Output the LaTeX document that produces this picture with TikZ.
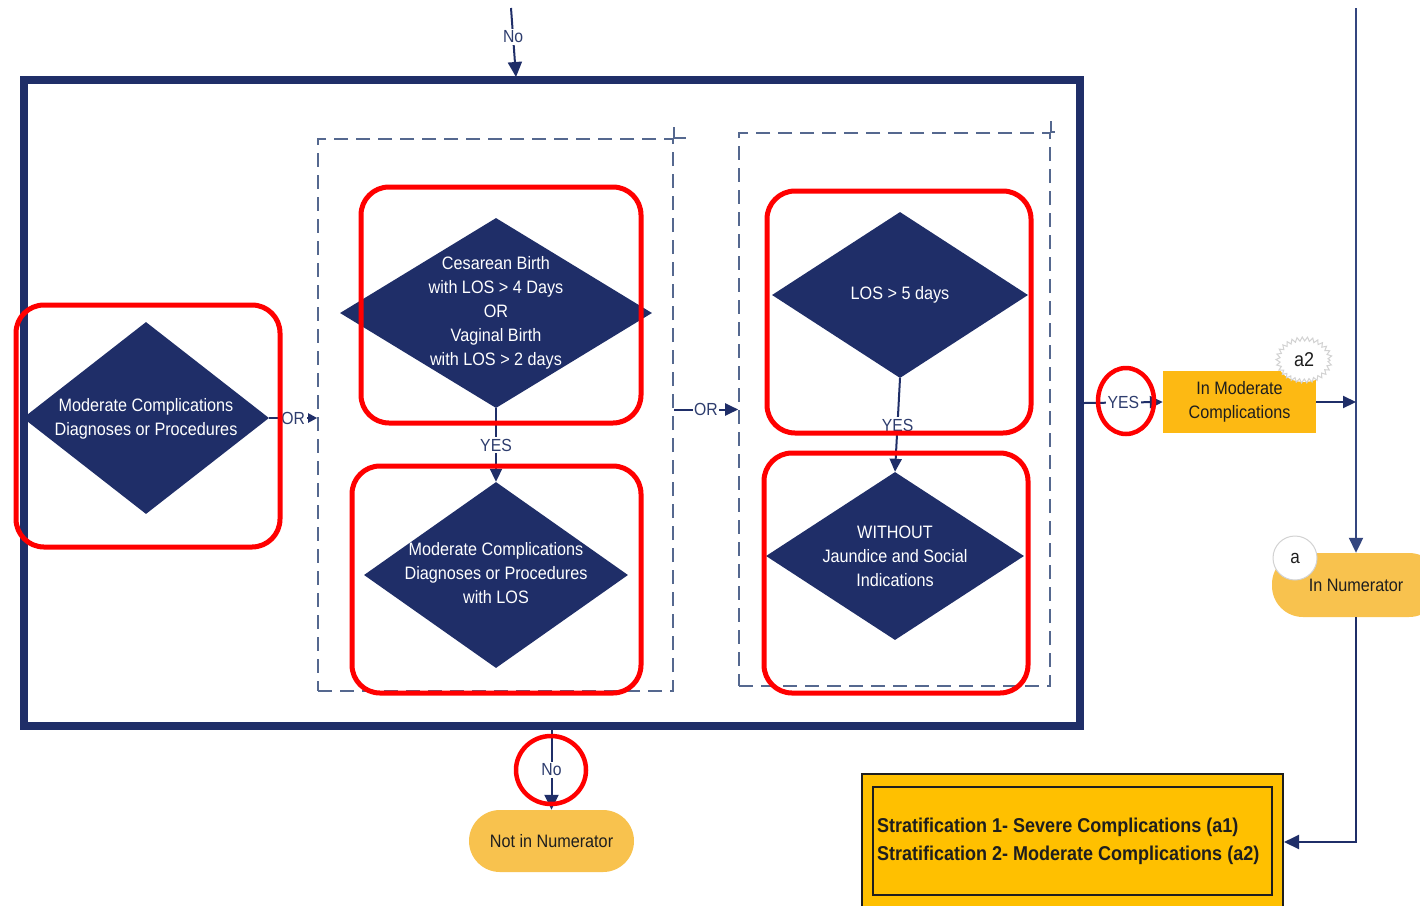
\documentclass[tikz,border=0pt]{standalone}
\usepackage{fontspec}
\setmainfont{Liberation Sans}[FakeStretch=0.9]
\usetikzlibrary{arrows.meta,shapes.geometric,decorations.pathmorphing}
\definecolor{navy}{HTML}{1F2E68}
\definecolor{lblcol}{HTML}{2E3D6E}
\definecolor{dashcol}{HTML}{55688F}
\definecolor{vlinecol}{HTML}{34467F}
\definecolor{goldbox}{HTML}{FDB913}
\definecolor{softgold}{HTML}{F8C24E}
\definecolor{stratgold}{HTML}{FFC000}
\definecolor{inkdark}{HTML}{1E1E1E}
\definecolor{redline}{HTML}{FF0000}
\begin{document}
\begin{tikzpicture}[x=1pt,y=-1pt,
  dia/.style={diamond, fill=navy, draw=none, inner sep=0pt},
  dtext/.style={text=white, align=center, inner sep=0pt, font=\fontsize{18}{24}\selectfont},
  lbl/.style={fill=white, inner sep=1.5pt, text=lblcol, font=\fontsize{17.5}{19}\selectfont},
  conn/.style={draw=navy, line width=2pt},
  arr/.style={conn, -{Triangle[length=15pt,width=14pt]}},
  arrmid/.style={conn, -{Triangle[length=13pt,width=12pt]}},
  arrsmall/.style={conn, -{Triangle[length=9pt,width=9pt]}},
  redbox/.style={draw=redline, line width=5pt, rounded corners=28pt, minimum width=#1},
  redring/.style={ellipse, draw=redline, line width=4.5pt, inner sep=0pt},
  dashbox/.style={draw=dashcol, line width=1.6pt, dash pattern=on 14pt off 8pt},
  pill/.style={fill=softgold, rounded corners=31pt, text=inkdark, font=\fontsize{18}{22}\selectfont},
  badge/.style={fill=white, draw=gray!35, line width=1pt, text=inkdark}
]
\clip (0,0) rectangle (1420,905);
\useasboundingbox (0,0) rectangle (1420,905);
\fill[white] (0,0) rectangle (1420,905);

% outer frame
\node[draw=navy, line width=8pt, minimum width=1056, minimum height=646, inner sep=0pt] (frame) at (552,403) {};

% dashed groups with overrun corners
\node[dashbox, minimum width=355, minimum height=552, inner sep=0pt] (grpA) at (495.5,415) {};
\draw[dashbox] (grpA.north east) -- ++(12,0);
\draw[dashbox] (grpA.north east) -- ++(0,-11);
\node[dashbox, minimum width=311, minimum height=553, inner sep=0pt] (grpB) at (894.5,409.5) {};
\draw[dashbox] (grpB.north east) -- ++(4,0);
\draw[dashbox] (grpB.north east) -- ++(0,-11);

% decision diamonds
\node[dia, minimum width=246, minimum height=192] (d1) at (146,418) {};
\node[dtext] (d1t) at (146,419) {Moderate Complications\\Diagnoses or Procedures};
\node[dia, minimum width=312, minimum height=190] (d2) at (496,313) {};
\node[dtext] (d2t) at (496,312.5) {Cesarean Birth\\with LOS > 4 Days\\OR\\Vaginal Birth\\with LOS > 2 days};
\node[dia, minimum width=264, minimum height=186] (d3) at (496,575) {};
\node[dtext] (d3t) at (496,573) {Moderate Complications\\Diagnoses or Procedures\\with LOS};
\node[dia, minimum width=256, minimum height=166] (d4) at (900,295) {};
\node[dtext] (d4t) at (900,295) {LOS > 5 days};
\node[dia, minimum width=258, minimum height=168] (d5) at (895,556) {};
\node[dtext] (d5t) at (895,556) {WITHOUT\\Jaundice and Social\\Indications};

% connectors inside the frame
\draw[arrsmall] (d1.east) -- node[lbl]{OR} (d1.east -| grpA.west);
\draw[arrmid] (grpB.west -| grpA.east) -- node[lbl]{OR} (grpB.west);
\draw[arrmid] (d2.south) -- node[lbl]{YES} (d3.north);
\draw[arrmid] (d4.south) -- node[lbl]{YES} (d5.north);

% entry from above
\coordinate (topNo) at (511,8);
\coordinate (frameIn) at (516,77);
\draw[arr] (topNo) -- node[lbl, pos=0.42]{No} (frameIn);

% outcome boxes
\node[fill=goldbox, minimum width=153, minimum height=62, align=center, text=inkdark,
      font=\fontsize{18}{24}\selectfont] (inmod) at (1239.5,402) {In Moderate\\Complications};
\fill[white] (1304,360) ellipse (27pt and 22pt);
\draw[gray!35, line width=1pt, decorate, decoration={zigzag, segment length=5pt, amplitude=2pt}]
  (1304,360) ellipse (26pt and 21pt);
\node[text=inkdark, inner sep=0pt, font=\fontsize{20}{22}\selectfont] (a2) at (1304,360) {a2};

\node[pill, minimum width=168, minimum height=64] (innum) at (1356,585) {In Numerator};
\node[badge, circle, minimum size=44, inner sep=0pt, font=\fontsize{19}{20}\selectfont] (abadge) at (1295,558) {a};

\node[pill, minimum width=165, minimum height=62] (notin) at (551.5,841) {Not in Numerator};

\node[fill=stratgold, draw=inkdark, line width=2pt, minimum width=421, minimum height=136, inner sep=0pt] (strat) at (1072.5,842) {};
\node[draw=inkdark, line width=2pt, minimum width=399, minimum height=108, inner sep=0pt] (stratin) at (1072.5,841) {};
\node[anchor=west, align=left, inner sep=0pt, text=inkdark, font=\bfseries\fontsize{20}{28}\selectfont]
  (strattxt) at (877,841) {Stratification 1- Severe Complications (a1)\\Stratification 2- Moderate Complications (a2)};

% flow on the right side
\draw[arrmid] (frame.east) -- node[lbl]{YES} (inmod.west);
\coordinate (topR) at (1356,8);
\draw[arr, draw=vlinecol] (topR) -- (innum.north);
\draw[arrmid] (inmod.east) -- (inmod.east -| innum.north);
\draw[arr] (innum.south) |- (strat.east);
\draw[arr] (frame.south -| notin.north) -- node[lbl]{No} (notin.north);

% highlight marks
\node[redbox=264, minimum height=242] (r1) at (148,426) {};
\node[redbox=280, minimum height=236] (r2) at (501,305) {};
\node[redbox=289, minimum height=227] (r3) at (496.5,579.5) {};
\node[redbox=264, minimum height=242] (r4) at (899,312) {};
\node[redbox=264, minimum height=240] (r5) at (896,573) {};
\node[redring, minimum width=56, minimum height=66] (ring1) at (1126,401) {};
\node[redring, minimum width=70, minimum height=68] (ring2) at (551,770) {};
\end{tikzpicture}
\end{document}
